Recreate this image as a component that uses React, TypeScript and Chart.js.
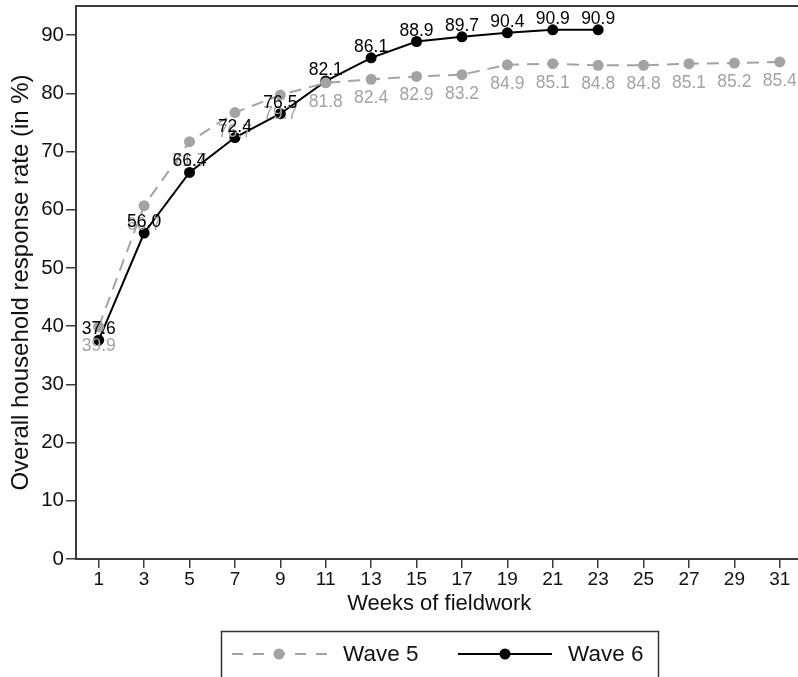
import React, { useEffect, useRef } from 'react';
import { Chart, registerables } from 'chart.js';

Chart.register(...registerables);

const wave5Weeks = [1, 3, 5, 7, 9, 11, 13, 15, 17, 19, 21, 23, 25, 27, 29, 31];
const wave5Values = [39.9, 60.7, 71.7, 76.7, 79.7, 81.8, 82.4, 82.9, 83.2, 84.9, 85.1, 84.8, 84.8, 85.1, 85.2, 85.4];
const wave6Weeks = [1, 3, 5, 7, 9, 11, 13, 15, 17, 19, 21, 23];
const wave6Values = [37.6, 56.0, 66.4, 72.4, 76.5, 82.1, 86.1, 88.9, 89.7, 90.4, 90.9, 90.9];
const xTickValues = [1, 3, 5, 7, 9, 11, 13, 15, 17, 19, 21, 23, 25, 27, 29, 31];
const yTickValues = [0, 10, 20, 30, 40, 50, 60, 70, 80, 90];
const seriesNames = ['Wave 5', 'Wave 6'];
const xTitle = 'Weeks of fieldwork';
const yTitle = 'Overall household response rate (in %)';

const GRAY = '#a3a3a3';
const BLACK = '#000000';
const AXIS = '#3c3c3c';
const FONT = "'Liberation Sans', Arial, sans-serif";

const labelPlugin = {
  id: 'pointLabels',
  afterDatasetsDraw(chart: any) {
    const ctx = chart.ctx;
    ctx.save();
    ctx.font = `17.5px ${FONT}`;
    ctx.textAlign = 'center';
    ctx.textBaseline = 'alphabetic';
    chart.data.datasets.forEach((ds: any, i: number) => {
      const meta = chart.getDatasetMeta(i);
      meta.data.forEach((pt: any, j: number) => {
        const v = ds.data[j].y;
        const txt = v.toFixed(1);
        if (i === 0) {
          ctx.fillStyle = GRAY;
          ctx.fillText(txt, pt.x, pt.y + 24);
        } else {
          ctx.fillStyle = BLACK;
          ctx.fillText(txt, pt.x, pt.y - 6);
        }
      });
    });
    ctx.restore();
  },
};

const framePlugin = {
  id: 'frameAndLegend',
  afterDraw(chart: any) {
    const ctx = chart.ctx;
    const a = chart.chartArea;
    ctx.save();
    ctx.strokeStyle = AXIS;
    ctx.lineWidth = 2;
    ctx.beginPath();
    ctx.moveTo(a.left - 1, a.top);
    ctx.lineTo(a.right, a.top);
    ctx.stroke();

    ctx.lineWidth = 1.5;
    ctx.strokeStyle = '#333333';
    ctx.strokeRect(221.5, 631.5, 437, 80);

    const ly = 654;
    ctx.strokeStyle = GRAY;
    ctx.lineWidth = 2;
    ctx.setLineDash([11, 10]);
    ctx.beginPath();
    ctx.moveTo(232, ly);
    ctx.lineTo(328, ly);
    ctx.stroke();
    ctx.setLineDash([]);
    ctx.fillStyle = GRAY;
    ctx.beginPath();
    ctx.arc(279, ly, 5.5, 0, Math.PI * 2);
    ctx.fill();

    ctx.strokeStyle = BLACK;
    ctx.beginPath();
    ctx.moveTo(458, ly);
    ctx.lineTo(552, ly);
    ctx.stroke();
    ctx.fillStyle = BLACK;
    ctx.beginPath();
    ctx.arc(505, ly, 5.5, 0, Math.PI * 2);
    ctx.fill();

    ctx.font = `22.5px ${FONT}`;
    ctx.textAlign = 'left';
    ctx.textBaseline = 'middle';
    ctx.fillStyle = '#111111';
    ctx.fillText(seriesNames[0], 343, ly + 1);
    ctx.fillText(seriesNames[1], 568, ly + 1);
    ctx.restore();
  },
};

export default function App() {
  const ref = useRef<HTMLCanvasElement | null>(null);

  useEffect(() => {
    if (!ref.current) return;
    const chart = new Chart(ref.current, {
      type: 'line',
      data: {
        datasets: [
          {
            label: seriesNames[0],
            data: wave5Weeks.map((w, i) => ({ x: w, y: wave5Values[i] })),
            borderColor: GRAY,
            backgroundColor: GRAY,
            borderWidth: 2,
            borderDash: [12, 8],
            pointRadius: 5.5,
            pointBorderWidth: 0,
            pointBackgroundColor: GRAY,
            tension: 0,
          },
          {
            label: seriesNames[1],
            data: wave6Weeks.map((w, i) => ({ x: w, y: wave6Values[i] })),
            borderColor: BLACK,
            backgroundColor: BLACK,
            borderWidth: 2,
            pointRadius: 5.5,
            pointBorderWidth: 0,
            pointBackgroundColor: BLACK,
            tension: 0,
          },
        ],
      },
      options: {
        responsive: false,
        animation: false,
        devicePixelRatio: 1,
        layout: { padding: { left: 7, top: 6, right: 0, bottom: 62 } },
        plugins: {
          legend: { display: false },
          tooltip: { enabled: false },
        },
        scales: {
          x: {
            type: 'linear',
            min: 0,
            max: 32,
            afterBuildTicks: (scale: any) => {
              scale.ticks = xTickValues.map((v) => ({ value: v }));
            },
            afterFit: (scale: any) => {
              scale.height = 56;
              scale.paddingLeft = 0;
              scale.paddingRight = 0;
            },
            grid: {
              display: true,
              drawOnChartArea: false,
              drawTicks: true,
              tickLength: 9,
              color: AXIS,
              lineWidth: 1.5,
            },
            border: { display: true, color: AXIS, width: 2 },
            ticks: {
              padding: 2.5,
              color: '#111111',
              font: { family: FONT, size: 19, lineHeight: 1 },
              maxRotation: 0,
              autoSkip: false,
            },
            title: {
              display: true,
              text: xTitle,
              color: '#111111',
              font: { family: FONT, size: 22, lineHeight: 1 },
              padding: { top: 3.5, bottom: 0 },
            },
          },
          y: {
            type: 'linear',
            min: 0,
            max: 95,
            afterBuildTicks: (scale: any) => {
              scale.ticks = yTickValues.map((v) => ({ value: v }));
            },
            afterFit: (scale: any) => {
              scale.width = 69;
              scale.paddingTop = 0;
              scale.paddingBottom = 0;
            },
            grid: {
              display: true,
              drawOnChartArea: false,
              drawTicks: true,
              tickLength: 10,
              color: AXIS,
              lineWidth: 1.5,
            },
            border: { display: true, color: AXIS, width: 2 },
            ticks: {
              padding: 2,
              color: '#111111',
              font: { family: FONT, size: 20.5 },
            },
            title: {
              display: true,
              text: yTitle,
              color: '#111111',
              font: { family: FONT, size: 24 },
              padding: { top: 0, bottom: 0 },
            },
          },
        },
      },
      plugins: [labelPlugin, framePlugin],
    } as any);
    return () => chart.destroy();
  }, []);

  return (
    <div style={{ position: 'fixed', left: 0, top: 0, width: 798, height: 677, overflow: 'hidden', background: '#ffffff' }}>
      <canvas ref={ref} width={808} height={677} style={{ display: 'block' }} />
    </div>
  );
}
